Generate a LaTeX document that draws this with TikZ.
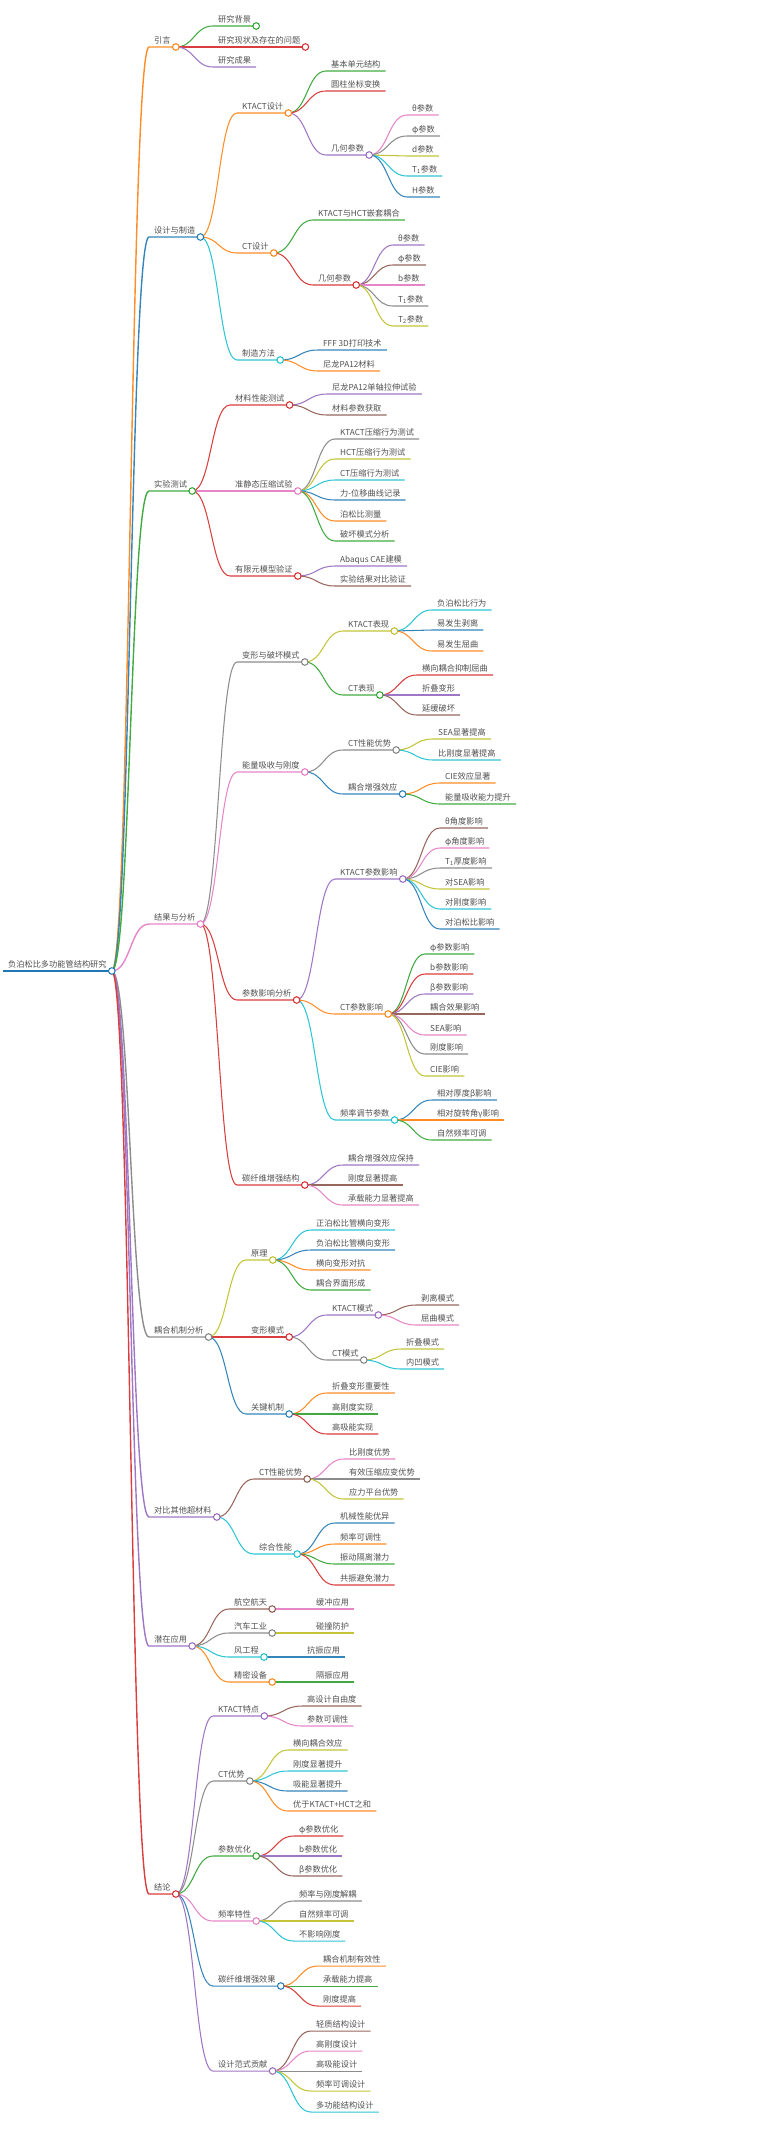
\documentclass[tikz,border=0pt]{standalone}
\usepackage{fontspec}
\setmainfont{Noto Sans CJK SC}
\usepackage{xcolor}
\usepackage{tikz}
\usetikzlibrary{calc, backgrounds}
\definecolor{tblue}{HTML}{1F77B4}
\definecolor{torange}{HTML}{FF7F0E}
\definecolor{tgreen}{HTML}{2CA02C}
\definecolor{tred}{HTML}{D62728}
\definecolor{tpurple}{HTML}{9467BD}
\definecolor{tbrown}{HTML}{8C564B}
\definecolor{tpink}{HTML}{E377C2}
\definecolor{tgray}{HTML}{7F7F7F}
\definecolor{tolive}{HTML}{BCBD22}
\definecolor{tcyan}{HTML}{17BECF}
\definecolor{txtgray}{RGB}{80, 80, 80}

\begin{document}
\begin{tikzpicture}[x=1pt, y=-1pt,
    topic/.style={anchor=south west, font=\fontsize{8.2}{9}\selectfont, text=txtgray,
        inner xsep=5pt, inner ysep=2.5pt, text height=6pt, text depth=1pt},
    hub/.style={topic, label={[dot=#1]south east:}},
    dot/.style={circle, draw=#1, fill=white, line width=1pt, inner sep=0pt,
        minimum size=6.6pt, anchor=center},
    link/.style={draw=#1!90!white, line width=1.05pt,
        to path={let \p1=(\tikztostart.south east), \p2=(\tikztotarget.south west) in
            (\p1) .. controls ({(\x1+\x2)/2},\y1) and ({(\x1+\x2)/2},\y2) .. (\p2)
            -- (\tikztotarget.south east)}},
    trunk/.style={link=#1, line width=1.4pt}
]
\useasboundingbox (0,0) rectangle (776,2130);

% Root
\node[hub=tblue] (r) at (3,971) {负泊松比多功能管结构研究};

% Main branches
\node[hub=torange] (a) at (149,47) {引言};
\node[hub=tblue] (b) at (149,237) {设计与制造};
\node[hub=tgreen] (c) at (149,491) {实验测试};
\node[hub=tpink] (d) at (149,924) {结果与分析};
\node[hub=tgray] (e) at (149,1337) {耦合机制分析};
\node[hub=tpurple] (f) at (149,1517) {对比其他超材料};
\node[hub=tpurple] (g) at (149,1646) {潜在应用};
\node[hub=tred] (h) at (149,1894) {结论};

% Introduction
\node[hub=tgreen] (a1) at (213,26) {研究背景};
\node[hub=tred] (a2) at (213,47) {研究现状及存在的问题};
\node[topic] (a3) at (213,67) {研究成果};

% Design and fabrication
\node[hub=torange] (b1) at (237,113) {KTACT设计};
\node[hub=torange] (b2) at (237,253) {CT设计};
\node[hub=tcyan] (b3) at (237,360) {制造方法};
\node[topic] (b11) at (326,71) {基本单元结构};
\node[topic] (b12) at (326,91) {圆柱坐标变换};
\node[hub=tpurple] (b13) at (326,155) {几何参数};
\node[topic] (b131) at (407,115) {θ参数};
\node[topic] (b132) at (407,136) {φ参数};
\node[topic] (b133) at (407,156) {d参数};
\node[topic] (b134) at (407,176) {T\textsubscript{1}参数};
\node[topic] (b135) at (407,197) {H参数};
\node[topic] (b21) at (313,220) {KTACT与HCT嵌套耦合};
\node[hub=tred] (b22) at (313,285) {几何参数};
\node[topic] (b221) at (393,245) {θ参数};
\node[topic] (b222) at (393,265) {φ参数};
\node[topic] (b223) at (393,285) {b参数};
\node[topic] (b224) at (393,306) {T\textsubscript{1}参数};
\node[topic] (b225) at (393,326) {T\textsubscript{2}参数};
\node[topic] (b31) at (318,350) {FFF 3D打印技术};
\node[topic] (b32) at (318,371) {尼龙PA12材料};

% Experiments
\node[hub=tred] (c1) at (230,405) {材料性能测试};
\node[hub=tpink] (c2) at (230,491) {准静态压缩试验};
\node[hub=tred] (c3) at (230,576) {有限元模型验证};
\node[topic] (c11) at (327,394) {尼龙PA12单轴拉伸试验};
\node[topic] (c12) at (327,415) {材料参数获取};
\node[topic] (c21) at (335,439) {KTACT压缩行为测试};
\node[topic] (c22) at (335,459) {HCT压缩行为测试};
\node[topic] (c23) at (335,480) {CT压缩行为测试};
\node[topic] (c24) at (335,500) {力-位移曲线记录};
\node[topic] (c25) at (335,521) {泊松比测量};
\node[topic] (c26) at (335,541) {破坏模式分析};
\node[topic] (c31) at (335,566) {Abaqus CAE建模};
\node[topic] (c32) at (335,586) {实验结果对比验证};

% Results and analysis
\node[hub=tgray] (d1) at (237,662) {变形与破坏模式};
\node[hub=tpink] (d2) at (237,772) {能量吸收与刚度};
\node[hub=tred] (d3) at (237,1000) {参数影响分析};
\node[hub=tred] (d4) at (237,1185) {碳纤维增强结构};
\node[hub=tolive] (d11) at (343,631) {KTACT表现};
\node[hub=tgreen] (d12) at (343,695) {CT表现};
\node[topic] (d111) at (432,610) {负泊松比行为};
\node[topic] (d112) at (432,630) {易发生剥离};
\node[topic] (d113) at (432,651) {易发生屈曲};
\node[topic] (d121) at (417,675) {横向耦合抑制屈曲};
\node[topic] (d122) at (417,695) {折叠变形};
\node[topic] (d123) at (417,715) {延缓破坏};
\node[hub=tgray] (d21) at (343,750) {CT性能优势};
\node[hub=tblue] (d22) at (343,794) {耦合增强效应};
\node[topic] (d211) at (433,739) {SEA显著提高};
\node[topic] (d212) at (433,760) {比刚度显著提高};
\node[topic] (d221) at (440,783) {CIE效应显著};
\node[topic] (d222) at (440,804) {能量吸收能力提升};
\node[hub=tpurple] (d31) at (335,879) {KTACT参数影响};
\node[hub=torange] (d32) at (335,1014) {CT参数影响};
\node[hub=tcyan] (d33) at (335,1120) {频率调节参数};
\node[topic] (d311) at (440,828) {θ角度影响};
\node[topic] (d312) at (440,848) {φ角度影响};
\node[topic] (d313) at (440,868) {T\textsubscript{1}厚度影响};
\node[topic] (d314) at (440,889) {对SEA影响};
\node[topic] (d315) at (440,909) {对刚度影响};
\node[topic] (d316) at (440,929) {对泊松比影响};
\node[topic] (d321) at (425,954) {φ参数影响};
\node[topic] (d322) at (425,974) {b参数影响};
\node[topic] (d323) at (425,994) {β参数影响};
\node[topic] (d324) at (425,1014) {耦合效果影响};
\node[topic] (d325) at (425,1035) {SEA影响};
\node[topic] (d326) at (425,1054) {刚度影响};
\node[topic] (d327) at (425,1076) {CIE影响};
\node[topic] (d331) at (432,1100) {相对厚度β影响};
\node[topic] (d332) at (432,1120) {相对旋转角γ影响};
\node[topic] (d333) at (432,1140) {自然频率可调};
\node[topic] (d41) at (343,1165) {耦合增强效应保持};
\node[topic] (d42) at (343,1185) {刚度显著提高};
\node[topic] (d43) at (343,1205) {承载能力显著提高};

% Coupling mechanism
\node[hub=tolive] (e1) at (246,1260) {原理};
\node[hub=tred] (e2) at (246,1337) {变形模式};
\node[hub=tblue] (e3) at (246,1414) {关键机制};
\node[topic] (e11) at (311,1230) {正泊松比管横向变形};
\node[topic] (e12) at (311,1250) {负泊松比管横向变形};
\node[topic] (e13) at (311,1270) {横向变形对抗};
\node[topic] (e14) at (311,1290) {耦合界面形成};
\node[hub=tpurple] (e21) at (327,1315) {KTACT模式};
\node[hub=tgray] (e22) at (327,1360) {CT模式};
\node[topic] (e211) at (416,1305) {剥离模式};
\node[topic] (e212) at (416,1325) {屈曲模式};
\node[topic] (e221) at (401,1349) {折叠模式};
\node[topic] (e222) at (401,1369) {内凹模式};
\node[topic] (e31) at (327,1393) {折叠变形重要性};
\node[topic] (e32) at (327,1414) {高刚度实现};
\node[topic] (e33) at (327,1434) {高吸能实现};

% Comparison
\node[hub=tbrown] (f1) at (254,1479) {CT性能优势};
\node[hub=tcyan] (f2) at (254,1554) {综合性能};
\node[topic] (f11) at (344,1459) {比刚度优势};
\node[topic] (f12) at (344,1479) {有效压缩应变优势};
\node[topic] (f13) at (344,1499) {应力平台优势};
\node[topic] (f21) at (335,1523) {机械性能优异};
\node[topic] (f22) at (335,1544) {频率可调性};
\node[topic] (f23) at (335,1564) {振动隔离潜力};
\node[topic] (f24) at (335,1585) {共振避免潜力};

% Applications
\node[hub=tbrown] (g1) at (229,1609) {航空航天};
\node[hub=tgray] (g2) at (229,1633) {汽车工业};
\node[hub=tcyan] (g3) at (229,1657) {风工程};
\node[hub=torange] (g4) at (229,1682) {精密设备};
\node[topic] (g11) at (311,1609) {缓冲应用};
\node[topic] (g21) at (311,1633) {碰撞防护};
\node[topic] (g31) at (302,1657) {抗振应用};
\node[topic] (g41) at (311,1682) {隔振应用};

% Conclusions
\node[hub=tpurple] (h1) at (213,1716) {KTACT特点};
\node[hub=tgray] (h2) at (213,1781) {CT优势};
\node[hub=tgreen] (h3) at (213,1856) {参数优化};
\node[hub=tpink] (h4) at (213,1921) {频率特性};
\node[hub=tblue] (h5) at (213,1986) {碳纤维增强效果};
\node[hub=tpurple] (h6) at (213,2071) {设计范式贡献};
\node[topic] (h11) at (302,1706) {高设计自由度};
\node[topic] (h12) at (302,1726) {参数可调性};
\node[topic] (h21) at (288,1750) {横向耦合效应};
\node[topic] (h22) at (288,1771) {刚度显著提升};
\node[topic] (h23) at (288,1791) {吸能显著提升};
\node[topic] (h24) at (288,1811) {优于KTACT+HCT之和};
\node[topic] (h31) at (294,1836) {φ参数优化};
\node[topic] (h32) at (294,1856) {b参数优化};
\node[topic] (h33) at (294,1876) {β参数优化};
\node[topic] (h41) at (294,1901) {频率与刚度解耦};
\node[topic] (h42) at (294,1921) {自然频率可调};
\node[topic] (h43) at (294,1941) {不影响刚度};
\node[topic] (h51) at (318,1966) {耦合机制有效性};
\node[topic] (h52) at (318,1986) {承载能力提高};
\node[topic] (h53) at (318,2006) {刚度提高};
\node[topic] (h61) at (311,2031) {轻质结构设计};
\node[topic] (h62) at (311,2051) {高刚度设计};
\node[topic] (h63) at (311,2071) {高吸能设计};
\node[topic] (h64) at (311,2091) {频率可调设计};
\node[topic] (h65) at (311,2112) {多功能结构设计};

% Connectors
\begin{scope}[on background layer]
\draw[tblue, line width=1.8pt] (r.south west) -- (r.south east);
\draw[trunk=torange] (r) to (a);
\draw[trunk=tblue] (r) to (b);
\draw[trunk=tgreen] (r) to (c);
\draw[trunk=tpink] (r) to (d);
\draw[trunk=tgray] (r) to (e);
\draw[trunk=tpurple] (r) to (f);
\draw[trunk=tpurple] (r) to (g);
\draw[trunk=tred] (r) to (h);

\draw[link=tgreen] (a) to (a1);
\draw[link=tred] (a) to (a2);
\draw[link=tpurple] (a) to (a3);

\draw[link=torange] (b) to (b1);
\draw[link=torange] (b) to (b2);
\draw[link=tcyan] (b) to (b3);
\draw[link=tgreen] (b1) to (b11);
\draw[link=tred] (b1) to (b12);
\draw[link=tpurple] (b1) to (b13);
\draw[link=tpink] (b13) to (b131);
\draw[link=tgray] (b13) to (b132);
\draw[link=tolive] (b13) to (b133);
\draw[link=tcyan] (b13) to (b134);
\draw[link=tblue] (b13) to (b135);
\draw[link=tgreen] (b2) to (b21);
\draw[link=tred] (b2) to (b22);
\draw[link=tpurple] (b22) to (b221);
\draw[link=tbrown] (b22) to (b222);
\draw[link=tpink] (b22) to (b223);
\draw[link=tgray] (b22) to (b224);
\draw[link=tolive] (b22) to (b225);
\draw[link=tblue] (b3) to (b31);
\draw[link=torange] (b3) to (b32);

\draw[link=tred] (c) to (c1);
\draw[link=tpink] (c) to (c2);
\draw[link=tred] (c) to (c3);
\draw[link=tpurple] (c1) to (c11);
\draw[link=tbrown] (c1) to (c12);
\draw[link=tgray] (c2) to (c21);
\draw[link=tolive] (c2) to (c22);
\draw[link=tcyan] (c2) to (c23);
\draw[link=tblue] (c2) to (c24);
\draw[link=torange] (c2) to (c25);
\draw[link=tgreen] (c2) to (c26);
\draw[link=tpurple] (c3) to (c31);
\draw[link=tbrown] (c3) to (c32);

\draw[link=tgray] (d) to (d1);
\draw[link=tpink] (d) to (d2);
\draw[link=tred] (d) to (d3);
\draw[link=tred] (d) to (d4);
\draw[link=tolive] (d1) to (d11);
\draw[link=tgreen] (d1) to (d12);
\draw[link=tcyan] (d11) to (d111);
\draw[link=tblue] (d11) to (d112);
\draw[link=torange] (d11) to (d113);
\draw[link=tred] (d12) to (d121);
\draw[link=tpurple] (d12) to (d122);
\draw[link=tbrown] (d12) to (d123);
\draw[link=tgray] (d2) to (d21);
\draw[link=tblue] (d2) to (d22);
\draw[link=tolive] (d21) to (d211);
\draw[link=tcyan] (d21) to (d212);
\draw[link=torange] (d22) to (d221);
\draw[link=tgreen] (d22) to (d222);
\draw[link=tpurple] (d3) to (d31);
\draw[link=torange] (d3) to (d32);
\draw[link=tcyan] (d3) to (d33);
\draw[link=tbrown] (d31) to (d311);
\draw[link=tpink] (d31) to (d312);
\draw[link=tgray] (d31) to (d313);
\draw[link=tolive] (d31) to (d314);
\draw[link=tcyan] (d31) to (d315);
\draw[link=tblue] (d31) to (d316);
\draw[link=tgreen] (d32) to (d321);
\draw[link=tred] (d32) to (d322);
\draw[link=tpurple] (d32) to (d323);
\draw[link=tbrown] (d32) to (d324);
\draw[link=tpink] (d32) to (d325);
\draw[link=tgray] (d32) to (d326);
\draw[link=tolive] (d32) to (d327);
\draw[link=tblue] (d33) to (d331);
\draw[link=torange] (d33) to (d332);
\draw[link=tgreen] (d33) to (d333);
\draw[link=tpurple] (d4) to (d41);
\draw[link=tbrown] (d4) to (d42);
\draw[link=tpink] (d4) to (d43);

\draw[link=tolive] (e) to (e1);
\draw[link=tred] (e) to (e2);
\draw[link=tblue] (e) to (e3);
\draw[link=tcyan] (e1) to (e11);
\draw[link=tblue] (e1) to (e12);
\draw[link=torange] (e1) to (e13);
\draw[link=tgreen] (e1) to (e14);
\draw[link=tpurple] (e2) to (e21);
\draw[link=tgray] (e2) to (e22);
\draw[link=tbrown] (e21) to (e211);
\draw[link=tpink] (e21) to (e212);
\draw[link=tolive] (e22) to (e221);
\draw[link=tcyan] (e22) to (e222);
\draw[link=torange] (e3) to (e31);
\draw[link=tgreen] (e3) to (e32);
\draw[link=tred] (e3) to (e33);

\draw[link=tbrown] (f) to (f1);
\draw[link=tcyan] (f) to (f2);
\draw[link=tpink] (f1) to (f11);
\draw[link=tgray] (f1) to (f12);
\draw[link=tolive] (f1) to (f13);
\draw[link=tblue] (f2) to (f21);
\draw[link=torange] (f2) to (f22);
\draw[link=tgreen] (f2) to (f23);
\draw[link=tred] (f2) to (f24);

\draw[link=tbrown] (g) to (g1);
\draw[link=tgray] (g) to (g2);
\draw[link=tcyan] (g) to (g3);
\draw[link=torange] (g) to (g4);
\draw[link=tpink] (g1) to (g11);
\draw[link=tolive] (g2) to (g21);
\draw[link=tblue] (g3) to (g31);
\draw[link=tgreen] (g4) to (g41);

\draw[link=tpurple] (h) to (h1);
\draw[link=tgray] (h) to (h2);
\draw[link=tgreen] (h) to (h3);
\draw[link=tpink] (h) to (h4);
\draw[link=tblue] (h) to (h5);
\draw[link=tpurple] (h) to (h6);
\draw[link=tbrown] (h1) to (h11);
\draw[link=tpink] (h1) to (h12);
\draw[link=tolive] (h2) to (h21);
\draw[link=tcyan] (h2) to (h22);
\draw[link=tblue] (h2) to (h23);
\draw[link=torange] (h2) to (h24);
\draw[link=tred] (h3) to (h31);
\draw[link=tpurple] (h3) to (h32);
\draw[link=tbrown] (h3) to (h33);
\draw[link=tgray] (h4) to (h41);
\draw[link=tolive] (h4) to (h42);
\draw[link=tcyan] (h4) to (h43);
\draw[link=torange] (h5) to (h51);
\draw[link=tgreen] (h5) to (h52);
\draw[link=tred] (h5) to (h53);
\draw[link=tbrown] (h6) to (h61);
\draw[link=tpink] (h6) to (h62);
\draw[link=tgray] (h6) to (h63);
\draw[link=tolive] (h6) to (h64);
\draw[link=tcyan] (h6) to (h65);
\end{scope}

\end{tikzpicture}
\end{document}
